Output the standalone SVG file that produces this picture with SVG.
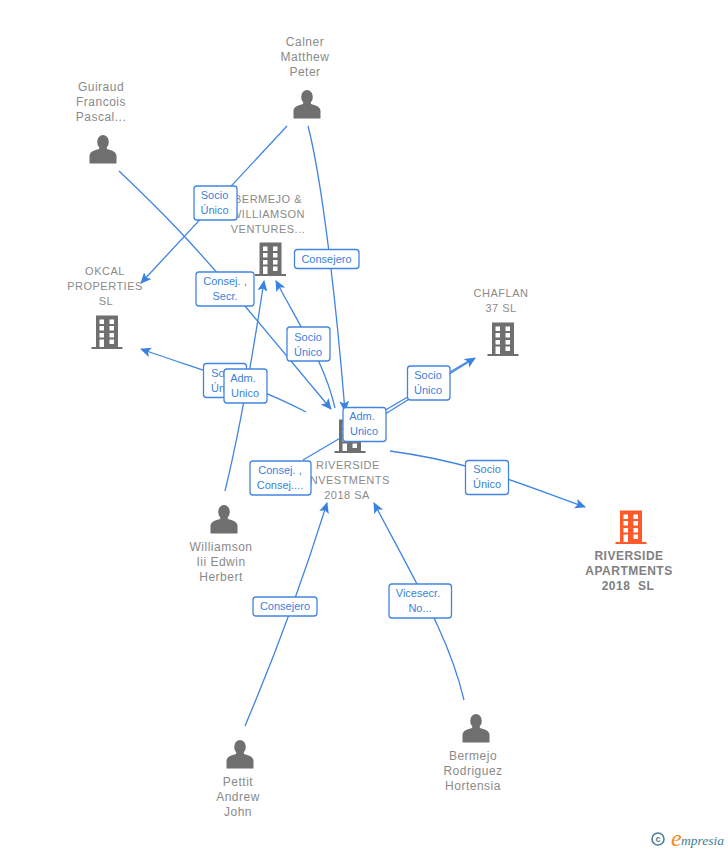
<svg xmlns="http://www.w3.org/2000/svg" width="728" height="850" viewBox="0 0 728 850">
<style>
text{font-family:"Liberation Sans",Arial,sans-serif}
.n{font-size:12px;fill:#8a8a8a;text-anchor:middle;letter-spacing:.5px}
.u{font-size:11px}
.b{font-size:12px;font-weight:bold;fill:#808080;letter-spacing:.5px}
.l{font-size:11px;fill:#3b7fdc;text-anchor:middle}
.r{fill:#fff;stroke:#4285e0;stroke-width:1.3}
.c{fill:none;stroke:#3f85e2;stroke-width:1.3}
.a{fill:none;stroke:#3f85e2;stroke-width:1.3;marker-end:url(#ah)}
</style>
<defs>
<marker id="ah" viewBox="0 0 12 10" refX="10" refY="5" markerWidth="12" markerHeight="10" markerUnits="userSpaceOnUse" orient="auto"><path d="M0 0L11 5L0 10L2.500 5Z" fill="#3a82e2"/></marker>
<g id="person"><ellipse cx="0" cy="-8" rx="5.800" ry="7" fill="#6f6f6f"/><path d="M-3.500-3L3.500-3L4-1C8 0 13.500 1.500 13.500 6L13.500 13.500L-13.500 13.500L-13.500 6C-13.500 1.500-8 0-4-1Z" fill="#6f6f6f"/></g>
<path id="bld" fill-rule="evenodd" d="M-11-16.500H11V15H15.500V17H-15.500V15H-11ZM-7.500-12.500V-8H-3V-12.500ZM2.500-12.500V-8H7V-12.500ZM-7.500-6V-1.500H-3V-6ZM2.500-6V-1.500H7V-6ZM-7.500 1V5.500H-3V1ZM2.500 1V5.500H7V1ZM-7.500 7.500V15H-3V7.500ZM2.500 7.500V12H7V7.500Z"/>
</defs>
<g id="connectors">
<path class="a" d="M287 126L141 283"/>
<path class="a" d="M308 126C322 180 336 300 345 411"/>
<path class="a" d="M119 171C160 210 195 245 245 306L331 409"/>
<path class="a" d="M335 408C325 365 305 335 276 281"/>
<path class="a" d="M225 491C240 430 252 360 264 281"/>
<path class="a" d="M306 412C255 385 200 370 141 349"/>
<path class="a" d="M350 436L475 358"/>
<path class="c" d="M350 431L472 359"/>
<path class="a" d="M390 451C470 462 510 480 585 507"/>
<path class="c" d="M303 460L342 437"/>
<path class="a" d="M245 726C275 655 300 590 327 503"/>
<path class="a" d="M464 700C450 640 420 590 374 503"/>
</g>
<g id="n-calner"><text class="n" x="305" y="46">Calner</text><text class="n" x="305" y="61">Matthew</text><text class="n" x="305" y="76">Peter</text><use href="#person" x="307" y="105"/></g>
<g id="n-guiraud"><text class="n" x="101" y="91">Guiraud</text><text class="n" x="101" y="106">Francois</text><text class="n" x="101" y="121">Pascal...</text><use href="#person" x="103" y="150"/></g>
<g id="n-bermejo-v"><text class="n u" x="268" y="203">BERMEJO &amp;</text><text class="n u" x="268" y="218">WILLIAMSON</text><text class="n u" x="268" y="233">VENTURES...</text><use href="#bld" x="270.500" y="259" fill="#6f6f6f"/></g>
<g id="n-okcal"><text class="n u" x="105" y="275">OKCAL</text><text class="n u" x="105" y="290">PROPERTIES</text><text class="n u" x="106" y="305">SL</text><use href="#bld" x="107" y="332" fill="#6f6f6f"/></g>
<g id="n-chaflan"><text class="n u" x="501" y="297">CHAFLAN</text><text class="n u" x="501" y="312">37 SL</text><use href="#bld" x="503" y="339" fill="#6f6f6f"/></g>
<g id="n-riverside-inv"><use href="#bld" x="350" y="436" fill="#6f6f6f"/><text class="n u" x="348" y="469">RIVERSIDE</text><text class="n u" x="348" y="484">INVESTMENTS</text><text class="n u" x="347" y="499">2018 SA</text></g>
<g id="n-riverside-apt"><use href="#bld" x="631" y="527" fill="#ff5a2c"/><text class="n b" x="629" y="560">RIVERSIDE</text><text class="n b" x="629" y="575">APARTMENTS</text><text class="n b" x="628" y="590" xml:space="preserve">2018  SL</text></g>
<g id="n-williamson"><text class="n" x="221" y="551">Williamson</text><text class="n" x="221" y="566">Iii Edwin</text><text class="n" x="221" y="581">Herbert</text><use href="#person" x="224" y="520"/></g>
<g id="n-pettit"><text class="n" x="238" y="786">Pettit</text><text class="n" x="238" y="801">Andrew</text><text class="n" x="238" y="816">John</text><use href="#person" x="240" y="755"/></g>
<g id="n-rodriguez"><text class="n" x="473" y="760">Bermejo</text><text class="n" x="473" y="775">Rodriguez</text><text class="n" x="473" y="790">Hortensia</text><use href="#person" x="476" y="729"/></g>
<g id="l1"><rect class="r" x="194" y="186" width="43" height="34" rx="3"/><text class="l" x="214.500" y="199">Socio</text><text class="l" x="214.500" y="214">Único</text></g>
<g id="l2"><rect class="r" x="196" y="272" width="58" height="34" rx="3"/><text class="l" x="225" y="285">Consej. ,</text><text class="l" x="225" y="300">Secr.</text></g>
<g id="l3"><rect class="r" x="294.500" y="249.500" width="64.500" height="19" rx="3"/><text class="l" x="326.500" y="262.500">Consejero</text></g>
<g id="l4"><rect class="r" x="287" y="327" width="43" height="34" rx="3"/><text class="l" x="308" y="341">Socio</text><text class="l" x="308" y="356">Único</text></g>
<g id="l5"><rect class="r" x="203.500" y="363.500" width="43" height="34" rx="3"/><text class="l" x="225" y="377">Socio</text><text class="l" x="225" y="392">Único</text></g>
<g id="l6"><rect class="r" x="224" y="369" width="43" height="34" rx="3"/><text class="l" x="243" y="382">Adm.</text><text class="l" x="245" y="397">Unico</text></g>
<g id="l7"><rect class="r" x="343" y="407.500" width="43" height="34" rx="3"/><text class="l" x="362" y="420">Adm.</text><text class="l" x="364" y="435">Unico</text></g>
<g id="l8"><rect class="r" x="407.500" y="366" width="42.500" height="34" rx="3"/><text class="l" x="428" y="379">Socio</text><text class="l" x="428" y="394">Único</text></g>
<g id="l9"><rect class="r" x="250" y="461" width="61" height="34" rx="3"/><text class="l" x="280" y="474">Consej. ,</text><text class="l" x="280" y="489">Consej....</text></g>
<g id="l10"><rect class="r" x="465.500" y="460.500" width="43" height="34" rx="3"/><text class="l" x="487" y="473">Socio</text><text class="l" x="487" y="488">Único</text></g>
<g id="l11"><rect class="r" x="253" y="597" width="64" height="19" rx="3"/><text class="l" x="285" y="610">Consejero</text></g>
<g id="l12"><rect class="r" x="389" y="584" width="62.500" height="34" rx="3"/><text class="l" x="418" y="597">Vicesecr.</text><text class="l" x="420" y="612">No...</text></g>
<g id="logo"><circle cx="658" cy="839" r="6" fill="none" stroke="#4d7f92" stroke-width="1.600"/><text x="658" y="842" font-size="9" font-weight="bold" text-anchor="middle" fill="#4d7f92">c</text><text x="671" y="846" font-size="24" font-style="italic" fill="#f08a1e" style="font-family:'Liberation Serif',serif">e</text><text x="681" y="845" font-size="13.500" font-style="italic" fill="#3f7d96" style="font-family:'Liberation Serif',serif">mpresia</text></g>
</svg>
